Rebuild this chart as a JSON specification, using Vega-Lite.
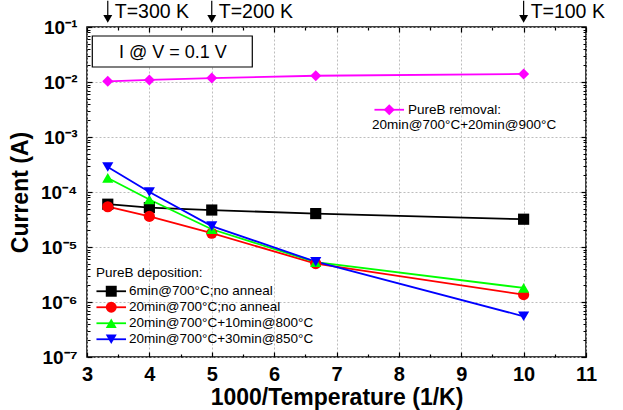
{
  "$schema": "https://vega.github.io/schema/vega-lite/v6.json",
  "width": 499,
  "height": 330,
  "autosize": {"type": "none"},
  "padding": {"left": 87, "top": 27, "right": 37, "bottom": 53},
  "config": {
    "font": "Liberation Sans",
    "view": {"stroke": "#000000", "strokeWidth": 1.5},
    "axis": {"domain": false, "tickColor": "#000000", "labelColor": "#000000", "titleColor": "#000000"},
    "legend": {"labelLimit": 400, "titleLimit": 400, "labelColor": "#000000", "titleColor": "#000000"}
  },
  "datasets": {
    "dep": [
      {"x": 3.333, "current": 6.0e-5, "series": "6min@700°C;no anneal"},
      {"x": 4, "current": 5.2e-5, "series": "6min@700°C;no anneal"},
      {"x": 5, "current": 4.7e-5, "series": "6min@700°C;no anneal"},
      {"x": 6.667, "current": 4.05e-5, "series": "6min@700°C;no anneal"},
      {"x": 10, "current": 3.2e-5, "series": "6min@700°C;no anneal"},
      {"x": 3.333, "current": 5.4e-5, "series": "20min@700°C;no anneal"},
      {"x": 4, "current": 3.6e-5, "series": "20min@700°C;no anneal"},
      {"x": 5, "current": 1.78e-5, "series": "20min@700°C;no anneal"},
      {"x": 6.667, "current": 5.0e-6, "series": "20min@700°C;no anneal"},
      {"x": 10, "current": 1.36e-6, "series": "20min@700°C;no anneal"},
      {"x": 3.333, "current": 1.8e-4, "series": "20min@700°C+10min@800°C"},
      {"x": 4, "current": 7.3e-5, "series": "20min@700°C+10min@800°C"},
      {"x": 5, "current": 2.1e-5, "series": "20min@700°C+10min@800°C"},
      {"x": 6.667, "current": 5.3e-6, "series": "20min@700°C+10min@800°C"},
      {"x": 10, "current": 1.8e-6, "series": "20min@700°C+10min@800°C"},
      {"x": 3.333, "current": 2.85e-4, "series": "20min@700°C+30min@850°C"},
      {"x": 4, "current": 1.0e-4, "series": "20min@700°C+30min@850°C"},
      {"x": 5, "current": 2.4e-5, "series": "20min@700°C+30min@850°C"},
      {"x": 6.667, "current": 5.4e-6, "series": "20min@700°C+30min@850°C"},
      {"x": 10, "current": 5.5e-7, "series": "20min@700°C+30min@850°C"}
    ],
    "rem": [
      {"x": 3.333, "current": 0.0103, "series": "PureB removal:"},
      {"x": 4, "current": 0.0109, "series": "PureB removal:"},
      {"x": 5, "current": 0.0118, "series": "PureB removal:"},
      {"x": 6.667, "current": 0.013, "series": "PureB removal:"},
      {"x": 10, "current": 0.014, "series": "PureB removal:"}
    ],
    "temps": [
      {"x": 3.333, "label": "T=300 K"},
      {"x": 5, "label": "T=200 K"},
      {"x": 10, "label": "T=100 K"}
    ],
    "note": [{"text": "I @ V = 0.1 V"}]
  },
  "layer": [
    {
      "data": {"name": "dep"},
      "mark": {"type": "line", "strokeWidth": 1.8},
      "encoding": {
        "x": {
          "field": "x", "type": "quantitative",
          "scale": {"domain": [3, 11], "nice": false, "zero": false},
          "axis": {
            "orient": "bottom",
            "values": [3, 4, 5, 6, 7, 8, 9, 10, 11],
            "grid": true, "gridDash": [2, 2], "gridColor": "#bdbdbd", "gridWidth": 1,
            "tickSize": -5, "tickWidth": 1.2,
            "labelFontSize": 20, "labelFontWeight": "bold", "labelPadding": 12, "labelFlush": false,
            "title": "1000/Temperature (1/K)", "titleFontSize": 23, "titleFontWeight": "bold", "titlePadding": 2
          }
        },
        "y": {
          "field": "current", "type": "quantitative",
          "scale": {"type": "log", "domain": [1e-7, 0.1], "nice": false},
          "axis": {
            "orient": "left",
            "values": [1e-7, 1e-6, 1e-5, 1e-4, 1e-3, 1e-2, 1e-1],
            "grid": true, "gridDash": [2, 2], "gridColor": "#bdbdbd", "gridWidth": 1,
            "tickSize": -5, "tickWidth": 1.2,
            "labelExpr": "'10' + ['⁰','⁻¹','⁻²','⁻³','⁻⁴','⁻⁵','⁻⁶','⁻⁷'][-round(log(datum.value)/LN10)]",
            "labelFontSize": 19, "labelFontWeight": "bold", "labelPadding": 15, "labelFlush": false,
            "title": "Current (A)", "titleFontSize": 23, "titleFontWeight": "bold", "titlePadding": 8
          }
        },
        "stroke": {
          "field": "series", "type": "nominal",
          "scale": {
            "domain": ["6min@700°C;no anneal", "20min@700°C;no anneal", "20min@700°C+10min@800°C", "20min@700°C+30min@850°C"],
            "range": ["#000000", "#ff0000", "#00ff00", "#0000ff"]
          },
          "legend": {
            "orient": "none", "legendX": 9, "legendY": 239, "padding": 0,
            "title": "PureB deposition:", "titleFontSize": 13.5, "titleFontWeight": "normal", "titlePadding": 5,
            "titleOpacity": 0, "labelOpacity": 0,
            "symbolType": "M-2.7,0H2.7", "symbolSize": 120, "symbolStrokeWidth": 1.8,
            "symbolOffset": 8.5, "labelOffset": 11, "labelFontSize": 13.5, "rowPadding": 1
          }
        }
      }
    },
    {
      "data": {"name": "dep"},
      "mark": {"type": "point", "filled": true, "opacity": 1, "size": 125},
      "encoding": {
        "x": {
          "field": "x", "type": "quantitative",
          "axis": {"orient": "bottom", "values": [3.5, 4.5, 5.5, 6.5, 7.5, 8.5, 9.5, 10.5], "labels": false, "grid": false, "tickSize": -3, "tickWidth": 1.2, "title": null}
        },
        "y": {
          "field": "current", "type": "quantitative",
          "axis": {
            "orient": "left",
            "values": [2e-7, 3e-7, 4e-7, 5e-7, 6e-7, 7e-7, 8e-7, 9e-7, 2e-6, 3e-6, 4e-6, 5e-6, 6e-6, 7e-6, 8e-6, 9e-6, 2e-5, 3e-5, 4e-5, 5e-5, 6e-5, 7e-5, 8e-5, 9e-5, 2e-4, 3e-4, 4e-4, 5e-4, 6e-4, 7e-4, 8e-4, 9e-4, 2e-3, 3e-3, 4e-3, 5e-3, 6e-3, 7e-3, 8e-3, 9e-3, 2e-2, 3e-2, 4e-2, 5e-2, 6e-2, 7e-2, 8e-2, 9e-2],
            "labels": false, "grid": false, "tickSize": -3, "tickWidth": 1, "title": null
          }
        },
        "fill": {
          "field": "series", "type": "nominal",
          "scale": {
            "domain": ["6min@700°C;no anneal", "20min@700°C;no anneal", "20min@700°C+10min@800°C", "20min@700°C+30min@850°C"],
            "range": ["#000000", "#ff0000", "#00ff00", "#0000ff"]
          },
          "legend": {
            "orient": "none", "legendX": 9, "legendY": 239, "padding": 0,
            "title": "PureB deposition:", "titleFontSize": 13.5, "titleFontWeight": "normal", "titlePadding": 5,
            "symbolSize": 120, "symbolStrokeWidth": 0, "symbolOpacity": 1,
            "symbolOffset": 8.5, "labelOffset": 11, "labelFontSize": 13.5, "rowPadding": 1
          }
        },
        "shape": {
          "field": "series", "type": "nominal",
          "scale": {
            "domain": ["6min@700°C;no anneal", "20min@700°C;no anneal", "20min@700°C+10min@800°C", "20min@700°C+30min@850°C"],
            "range": ["square", "circle", "triangle-up", "triangle-down"]
          },
          "legend": {
            "orient": "none", "legendX": 9, "legendY": 239, "padding": 0,
            "title": "PureB deposition:", "titleFontSize": 13.5, "titleFontWeight": "normal", "titlePadding": 5,
            "symbolSize": 120, "symbolStrokeWidth": 0, "symbolOpacity": 1,
            "symbolOffset": 8.5, "labelOffset": 11, "labelFontSize": 13.5, "rowPadding": 1
          }
        }
      }
    },
    {
      "data": {"name": "rem"},
      "mark": {"type": "line", "strokeWidth": 1.8},
      "encoding": {
        "x": {
          "field": "x", "type": "quantitative",
          "axis": {"orient": "top", "values": [3, 4, 5, 6, 7, 8, 9, 10, 11], "labels": false, "grid": false, "tickSize": -5, "tickWidth": 1.2, "title": null}
        },
        "y": {
          "field": "current", "type": "quantitative",
          "axis": {"orient": "right", "values": [1e-7, 1e-6, 1e-5, 1e-4, 1e-3, 1e-2, 1e-1], "labels": false, "grid": false, "tickSize": -5, "tickWidth": 1.2, "title": null}
        },
        "stroke": {
          "field": "series", "type": "nominal",
          "scale": {"domain": ["PureB removal:"], "range": ["#ff00ff"]},
          "legend": {
            "orient": "none", "legendX": 285, "legendY": 76, "padding": 0,
            "title": "20min@700°C+20min@900°C", "titleOrient": "bottom", "titleAnchor": "start", "titleAlign": "left",
            "titleFontSize": 13.5, "titleFontWeight": "normal", "titlePadding": 2,
            "titleOpacity": 0, "labelOpacity": 0,
            "symbolType": "M-2.7,0H2.7", "symbolSize": 120, "symbolStrokeWidth": 1.8,
            "symbolOffset": 10.5, "labelOffset": 12, "labelFontSize": 13.5
          }
        }
      }
    },
    {
      "data": {"name": "rem"},
      "mark": {"type": "point", "filled": true, "opacity": 1, "size": 121},
      "encoding": {
        "x": {
          "field": "x", "type": "quantitative",
          "axis": {"orient": "top", "values": [3.5, 4.5, 5.5, 6.5, 7.5, 8.5, 9.5, 10.5], "labels": false, "grid": false, "tickSize": -3, "tickWidth": 1.2, "title": null}
        },
        "y": {
          "field": "current", "type": "quantitative",
          "axis": {
            "orient": "right",
            "values": [2e-7, 3e-7, 4e-7, 5e-7, 6e-7, 7e-7, 8e-7, 9e-7, 2e-6, 3e-6, 4e-6, 5e-6, 6e-6, 7e-6, 8e-6, 9e-6, 2e-5, 3e-5, 4e-5, 5e-5, 6e-5, 7e-5, 8e-5, 9e-5, 2e-4, 3e-4, 4e-4, 5e-4, 6e-4, 7e-4, 8e-4, 9e-4, 2e-3, 3e-3, 4e-3, 5e-3, 6e-3, 7e-3, 8e-3, 9e-3, 2e-2, 3e-2, 4e-2, 5e-2, 6e-2, 7e-2, 8e-2, 9e-2],
            "labels": false, "grid": false, "tickSize": -3, "tickWidth": 1, "title": null
          }
        },
        "fill": {
          "field": "series", "type": "nominal",
          "scale": {"domain": ["PureB removal:"], "range": ["#ff00ff"]},
          "legend": {
            "orient": "none", "legendX": 285, "legendY": 76, "padding": 0,
            "title": "20min@700°C+20min@900°C", "titleOrient": "bottom", "titleAnchor": "start", "titleAlign": "left",
            "titleFontSize": 13.5, "titleFontWeight": "normal", "titlePadding": 2,
            "symbolSize": 120, "symbolStrokeWidth": 0, "symbolOpacity": 1,
            "symbolOffset": 10.5, "labelOffset": 12, "labelFontSize": 13.5
          }
        },
        "shape": {
          "field": "series", "type": "nominal",
          "scale": {"domain": ["PureB removal:"], "range": ["diamond"]},
          "legend": {
            "orient": "none", "legendX": 285, "legendY": 76, "padding": 0,
            "title": "20min@700°C+20min@900°C", "titleOrient": "bottom", "titleAnchor": "start", "titleAlign": "left",
            "titleFontSize": 13.5, "titleFontWeight": "normal", "titlePadding": 2,
            "symbolSize": 120, "symbolStrokeWidth": 0, "symbolOpacity": 1,
            "symbolOffset": 10.5, "labelOffset": 12, "labelFontSize": 13.5
          }
        }
      }
    },
    {
      "data": {"name": "temps"},
      "mark": {"type": "rule", "color": "#000000", "strokeWidth": 1.2},
      "encoding": {
        "x": {"field": "x", "type": "quantitative", "axis": null},
        "y": {"datum": 0.3, "type": "quantitative", "axis": null},
        "y2": {"datum": 0.141}
      }
    },
    {
      "data": {"name": "temps"},
      "mark": {"type": "point", "shape": "triangle-down", "filled": true, "opacity": 1, "color": "#000000", "size": 80},
      "encoding": {
        "x": {"field": "x", "type": "quantitative", "axis": null},
        "y": {"datum": 0.141, "type": "quantitative", "axis": null}
      }
    },
    {
      "data": {"name": "temps"},
      "mark": {"type": "text", "align": "left", "baseline": "middle", "dx": 7, "fontSize": 19.5, "color": "#000000"},
      "encoding": {
        "x": {"field": "x", "type": "quantitative", "axis": null},
        "y": {"datum": 0.1875, "type": "quantitative", "axis": null},
        "text": {"field": "label"}
      }
    },
    {
      "data": {"name": "note"},
      "mark": {"type": "rect", "fill": "#ffffff", "stroke": "#000000", "strokeWidth": 1.2},
      "encoding": {
        "x": {"datum": 3.085, "type": "quantitative", "axis": null},
        "x2": {"datum": 5.65},
        "y": {"datum": 0.0686, "type": "quantitative", "axis": null},
        "y2": {"datum": 0.01875}
      }
    },
    {
      "data": {"name": "note"},
      "mark": {"type": "text", "align": "center", "baseline": "middle", "fontSize": 18, "color": "#000000"},
      "encoding": {
        "x": {"datum": 4.377, "type": "quantitative", "axis": null},
        "y": {"datum": 0.0337, "type": "quantitative", "axis": null},
        "text": {"field": "text"}
      }
    }
  ],
  "resolve": {
    "scale": {"stroke": "independent", "fill": "independent", "shape": "independent"},
    "axis": {"x": "independent", "y": "independent"}
  }
}
